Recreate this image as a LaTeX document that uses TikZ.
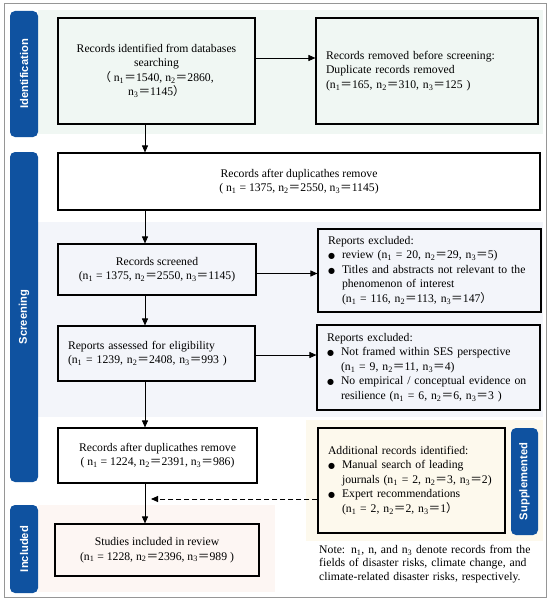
\documentclass[tikz,border=0pt]{standalone}
\usepackage{fontspec}
\setmainfont{Liberation Serif}
\newfontfamily\cjk{Noto Sans CJK SC}
\newfontfamily\tabfont{Liberation Sans}
\newfontfamily\dejavu{DejaVu Sans}
\usetikzlibrary{arrows.meta, positioning, calc}
\definecolor{tabblue}{RGB}{15,82,160}
\definecolor{idbg}{RGB}{240,247,243}
\definecolor{scrbg}{RGB}{243,245,250}
\definecolor{supbg}{RGB}{253,249,237}
\definecolor{incbg}{RGB}{253,246,243}
\definecolor{framegray}{RGB}{150,150,150}
\newcommand{\fe}{{\cjk ＝}}
\newcommand{\flp}{{\cjk （}}
\newcommand{\frp}{{\cjk ）}}
\newcommand{\nsub}[1]{n\textsubscript{#1}}
\newcommand{\bl}{\makebox[14pt][l]{{\dejavu\fontsize{8}{8}\selectfont ●}}}
\newcommand{\ind}{\hspace*{14pt}}

\begin{document}
\begin{tikzpicture}[x=1pt, y=-1pt,
  box/.style={draw, line width=1.1pt, align=center, inner sep=0pt, font=\fontsize{11.7}{14.5}\selectfont},
  lbox/.style={box, align=left, inner xsep=10pt},
  tab/.style={fill=tabblue, rounded corners=5pt, rotate=90, minimum height=28pt, inner sep=0pt,
    text=white, font=\tabfont\bfseries\fontsize{11.2}{12}\selectfont},
  arr/.style={-{Triangle[length=7pt,width=6pt]}, line width=0.9pt},
  dasharr/.style={arr, dashed, dash pattern=on 5pt off 3pt}]
  \useasboundingbox[fill=white] (0,0) rectangle (550,602);
  \draw[framegray, line width=1pt] (4,4) rectangle (546,597);
  % Bands
  \fill[idbg] (38,10) rectangle (543,134);
  \fill[scrbg] (38,222) rectangle (543,417);
  \fill[supbg] (306,420) rectangle (543,541);
  \fill[incbg] (38,505) rectangle (275,592);
  % Tabs
  \node[tab, minimum width=126pt] (tabid) at (24,74) {Identification};
  \node[tab, minimum width=330pt] (tabscr) at (24,317) {Screening};
  \node[tab, minimum width=88pt] (tabinc) at (24,549) {Included};
  \node[tab, minimum width=107pt, minimum height=27pt] (tabsup) at (524.5,481.5) {Supplemented};
  % Boxes
  \node[box, minimum width=197pt, minimum height=106pt] (ident) at (156.5,71)
    {Records identified from databases\\searching\\\flp\ \nsub{1}\fe1540, \nsub{2}\fe2860,\\\nsub{3}\fe1145\frp};
  \node[lbox, text width=202pt, minimum height=106pt] (removed) at (427,71)
    {Records removed before screening:\\Duplicate records removed\\(\nsub{1}\fe165, \nsub{2}\fe310, \nsub{3}\fe125 )};
  \node[box, minimum width=482pt, minimum height=57pt] (afterdup) at (299,181.5)
    {Records after duplicathes remove\\( \nsub{1} = 1375, \nsub{2}\fe2550, \nsub{3}\fe1145)};
  \node[box, minimum width=198pt, minimum height=51pt] (screened) at (157,269.5)
    {Records screened\\(\nsub{1} = 1375, \nsub{2}\fe2550, \nsub{3}\fe1145)};
  \node[lbox, text width=203pt, minimum height=83pt] (exclone) at (429.5,270.5)
    {Reports excluded:\\\bl review (\nsub{1} = 20, \nsub{2}\fe29, \nsub{3}\fe5)\\
     \bl Titles and abstracts not relevant to the\\\ind phenomenon of interest\\
     \ind(\nsub{1} = 116, \nsub{2}\fe113, \nsub{3}\fe147\frp};
  \node[lbox, text width=177pt, minimum height=55pt] (assessed) at (156.5,353.5)
    {Reports assessed for eligibility\\(\nsub{1} = 1239, \nsub{2}\fe2408, \nsub{3}\fe993 )};
  \node[lbox, text width=203pt, minimum height=85pt] (excltwo) at (428.5,367.5)
    {Reports excluded:\\\bl Not framed within SES perspective\\\ind(\nsub{1} = 9, \nsub{2}\fe11, \nsub{3}\fe4)\\
     \bl No empirical / conceptual evidence on\\\ind resilience (\nsub{1} = 6, \nsub{2}\fe6, \nsub{3}\fe3 )};
  \node[box, minimum width=199pt, minimum height=55pt] (afterduptwo) at (157.5,455.5)
    {Records after duplicathes remove\\( \nsub{1} = 1224, \nsub{2}\fe2391, \nsub{3}\fe986)};
  \node[lbox, text width=167pt, minimum height=105pt] (additional) at (411.5,480.5)
    {Additional records identified:\\\bl Manual search of leading\\\ind journals (\nsub{1} = 2, \nsub{2}\fe3, \nsub{3}\fe2)\\
     \bl Expert recommendations\\\ind(\nsub{1} = 2, \nsub{2}\fe2, \nsub{3}\fe1\frp};
  \node[box, minimum width=204pt, minimum height=52pt] (included) at (157,550)
    {Studies included in review\\(\nsub{1} = 1228, \nsub{2}\fe2396, \nsub{3}\fe989 )};
  % Note
  \node[anchor=west, text width=221pt, inner sep=0pt, align=left, font=\fontsize{11.7}{13.5}\selectfont] (note) at (319,564)
    {\makebox[221pt][s]{Note: \nsub{1}, n, and \nsub{3} denote records from the}\\
     \makebox[221pt][s]{fields of disaster risks, climate change, and}\\
     climate-related disaster risks, respectively.};
  % Connectors
  \coordinate (spine) at (145,0);
  \coordinate (dashend) at (151,499);
  \draw[arr] (ident.south -| spine) -- (afterdup.north -| spine);
  \draw[arr] (afterdup.south -| spine) -- (screened.north -| spine);
  \draw[arr] (screened.south -| spine) -- (assessed.north -| spine);
  \draw[arr] (assessed.south -| spine) -- (afterduptwo.north -| spine);
  \draw[arr] (afterduptwo.south -| spine) -- (included.north -| spine);
  \draw[arr] ([yshift=13pt]ident.east) -- ([yshift=13pt]ident.east -| removed.west);
  \draw[arr] ([yshift=-4pt]screened.east) -- ([yshift=-4pt]screened.east -| exclone.west);
  \draw[arr] ([yshift=-1.5pt]assessed.east) -- ([yshift=-1.5pt]assessed.east -| excltwo.west);
  \draw[dasharr] (additional.west |- dashend) -- (dashend);
\end{tikzpicture}
\end{document}
